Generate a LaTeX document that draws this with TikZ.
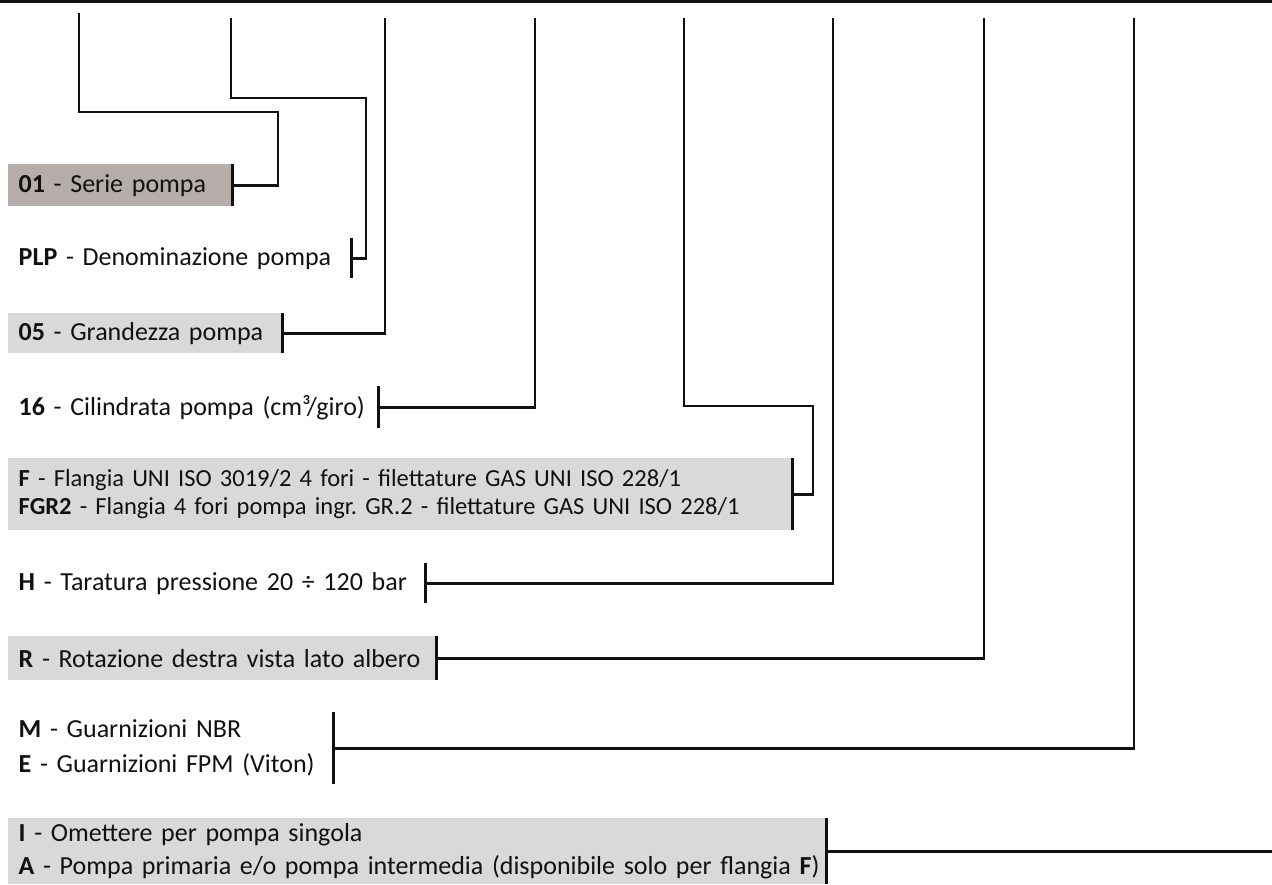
\documentclass[tikz,border=0pt]{standalone}
\usepackage{fontspec}
\setmainfont{Carlito}
\definecolor{taupe}{HTML}{B5ADAA}
\definecolor{lgray}{HTML}{D9D9D9}
\definecolor{ink}{HTML}{111111}
\frenchspacing
\begin{document}
\begin{tikzpicture}[x=1pt,y=-1pt,
  conn/.style={line width=2.6pt, draw=ink, line join=miter},
  lbl/.style={anchor=north west, inner xsep=10.5pt, inner ysep=0pt, align=left,
    font=\fontsize{26}{31}\selectfont, text=ink},
  small/.style={font=\fontsize{24.5}{28}\selectfont},
  dark/.style={fill=taupe},
  light/.style={fill=lgray}]
\useasboundingbox (0,0) rectangle (1272,884);
% top rule
\coordinate (topL) at (0,1.5);
\coordinate (topR) at (1272,1.5);
\draw[line width=3pt, draw=ink] (topL) -- (topR);
% top ends of the leaders
\coordinate (t1) at (79,13);
\coordinate (t2) at (231,18);
\coordinate (t3) at (385,18);
\coordinate (t4) at (535,18);
\coordinate (t5) at (684,18);
\coordinate (t6) at (833,18);
\coordinate (t7) at (984,18);
\coordinate (t8) at (1134,18);
% labels
\node[lbl,dark,text width=203pt,minimum height=42pt] (n1) at (8,164) {\mbox{\textbf{01} - Serie pompa}};
\node[lbl,text width=322pt,minimum height=40pt] (n2) at (8,238) {\mbox{\textbf{PLP} - Denominazione pompa}};
\node[lbl,light,text width=253pt,minimum height=40pt] (n3) at (8,313) {\mbox{\textbf{05} - Grandezza pompa}};
\node[lbl,text width=349pt,minimum height=42pt] (n4) at (8,386) {\mbox{\textbf{16} - Cilindrata pompa (cm³/giro)}};
\node[lbl,small,light,text width=763pt,minimum height=72pt] (n5) at (8,458) {\mbox{\textbf{F} - Flangia UNI ISO 3019/2 4 fori - filettature GAS UNI ISO 228/1}\\\mbox{\textbf{FGR2} - Flangia 4 fori pompa ingr. GR.2 - filettature GAS UNI ISO 228/1}};
\node[lbl,text width=396pt,minimum height=40pt] (n6) at (8,563) {\mbox{\textbf{H} - Taratura pressione 20 ÷ 120 bar}};
\node[lbl,light,text width=407pt,minimum height=44pt] (n7) at (8,636) {\mbox{\textbf{R} - Rotazione destra vista lato albero}};
\node[lbl,text width=304pt,minimum height=72pt] (n8) at (8,712) {\mbox{\textbf{M} - Guarnizioni NBR}\\[4pt]\mbox{\textbf{E} - Guarnizioni FPM (Viton)}};
\node[lbl,light,text width=797pt,minimum height=66pt] (n9) at (8,818) {\mbox{\textbf{I} - Omettere per pompa singola}\\[2pt]\mbox{\textbf{A} - Pompa primaria e/o pompa intermedia (disponibile solo per flangia \textbf{F})}};
\coordinate (e9) at (1272,851);
% ticks
\foreach \n in {n1,n2,n3,n4,n5,n6,n7,n8,n9}
  \draw[conn] (\n.north east) -- (\n.south east);
% connectors
\draw[conn] (t1) |- (278,112) |- (n1.east);
\draw[conn] (t2) |- (366,98) |- (n2.east);
\draw[conn] (t3) |- (n3.east);
\draw[conn] (t4) |- (n4.east);
\draw[conn] (t5) |- (813,406) |- (n5.east);
\draw[conn] (t6) |- (n6.east);
\draw[conn] (t7) |- (n7.east);
\draw[conn] (t8) |- (n8.east);
\draw[conn] (n9.east) -- (n9.east -| e9);
\end{tikzpicture}
\end{document}
